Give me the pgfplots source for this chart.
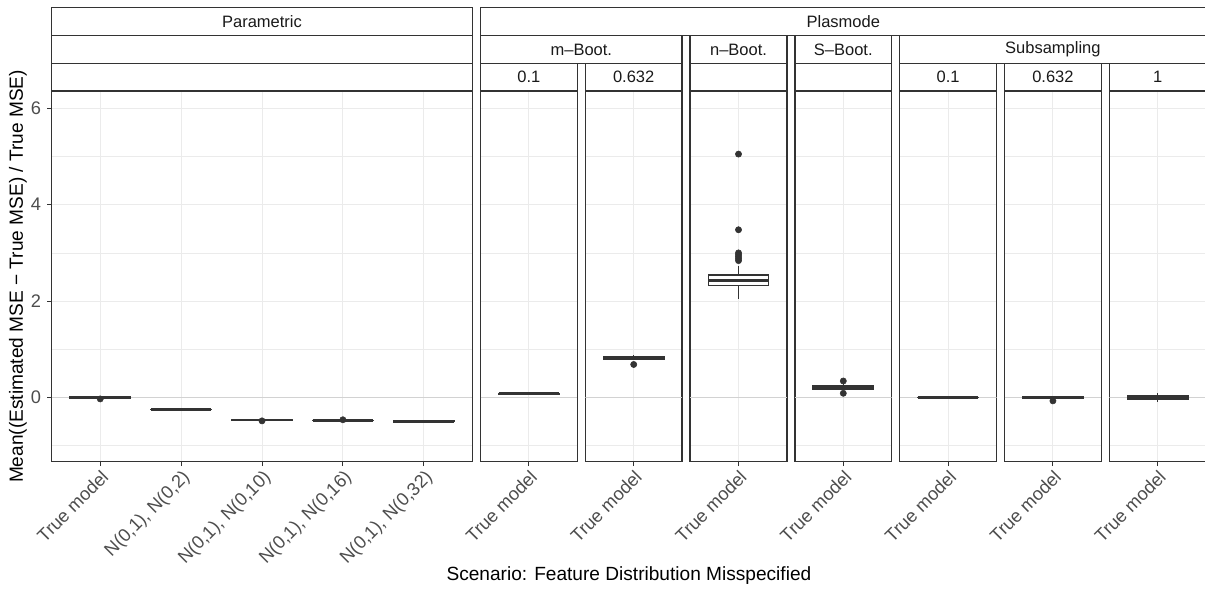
\documentclass[border=0pt]{standalone}
\usepackage{pgfplots}
\pgfplotsset{compat=1.18}
\usepgfplotslibrary{statistics}
\usepackage{fontspec}
\setmainfont{Liberation Sans}
\definecolor{grey10}{HTML}{1A1A1A}
\definecolor{grey20}{HTML}{333333}
\definecolor{grey30}{HTML}{4D4D4D}
\definecolor{grey92}{HTML}{EBEBEB}
\definecolor{zeroline}{HTML}{D2D2D2}
\newcommand{\tickfont}{\fontsize{10.5}{12}\selectfont}
\newcommand{\stripfont}{\fontsize{9.5}{11}\selectfont}
\newcommand{\titlefont}{\fontsize{11}{13}\selectfont}
\pgfplotsset{
  panel/.style={
    scale only axis, anchor=south west,
    height=213.41pt,
    ymin=-1.332, ymax=6.355,
    ytick={0,2,4,6}, minor ytick={-1,1,3,5},
    ymajorgrids, yminorgrids, xmajorgrids,
    major grid style={draw=grey92, line width=0.55pt},
    minor grid style={draw=grey92, line width=0.3pt},
    axis line style={draw=grey20, line width=0.85pt},
    tick align=outside, tick pos=left,
    major tick length=2.6pt, minor tick length=0pt,
    tick style={draw=grey20, line width=0.55pt},
    xticklabel style={rotate=45, anchor=north east, font=\tickfont, text=grey30, inner sep=1pt},
    yticklabel style={font=\tickfont, text=grey30},
    /pgf/number format/assume math mode=true,
  },
  plpanel/.style={panel, width=55.76pt, xmin=0.4, xmax=1.6, xtick={1}, xticklabels={True model},
    yticklabels={}, ytick style={draw=none}},
  bp/.style={boxplot prepared={#1}, boxplot/draw direction=y, draw=grey20, fill=white, line width=0.8pt,
    boxplot/box extend=0.75, boxplot/whisker extend=0,
    boxplot/every median/.style={line width=1.6pt},
    mark=*, mark size=1.8pt, mark options={solid, fill=grey20, draw=grey20, line width=0.3pt}},
  zl/.style={draw=zeroline, line width=0.55pt, forget plot},
}
\begin{document}
\begin{tikzpicture}[x=0.576pt, y=0.576pt]
\useasboundingbox (0,0) rectangle (1205,598);
\clip (0,0) rectangle (1205,598);

% Parametric
\begin{axis}[panel, at={(29.78pt,78.51pt)}, width=242.27pt, xmin=0.4, xmax=5.6,
  xtick={1,2,3,4,5},
  xticklabels={True model, {N(0,1), N(0,2)}, {N(0,1), N(0,10)}, {N(0,1), N(0,16)}, {N(0,1), N(0,32)}}]
\addplot[zl] coordinates {(0.4,0) (5.6,0)};
\addplot[bp={draw position=1, lower whisker=-0.02, lower quartile=-0.01, median=0, upper quartile=0.01, upper whisker=0.02}]
  table[row sep=\\, y index=0] {data\\ -0.03\\};
\addplot[bp={draw position=2, lower whisker=-0.257, lower quartile=-0.255, median=-0.25, upper quartile=-0.245, upper whisker=-0.243}]
  coordinates {};
\addplot[bp={draw position=3, lower whisker=-0.473, lower quartile=-0.47, median=-0.465, upper quartile=-0.46, upper whisker=-0.457}]
  table[row sep=\\, y index=0] {data\\ -0.485\\};
\addplot[bp={draw position=4, lower whisker=-0.486, lower quartile=-0.483, median=-0.478, upper quartile=-0.473, upper whisker=-0.47}]
  table[row sep=\\, y index=0] {data\\ -0.462\\};
\addplot[bp={draw position=5, lower whisker=-0.499, lower quartile=-0.497, median=-0.492, upper quartile=-0.487, upper whisker=-0.485}]
  coordinates {};
\end{axis}

% m-Boot 0.1
\begin{axis}[plpanel, at={(276.77pt,78.51pt)}]
\addplot[zl] coordinates {(0.4,0) (1.6,0)};
\addplot[bp={draw position=1, lower whisker=0.066, lower quartile=0.07, median=0.075, upper quartile=0.08, upper whisker=0.084}]
  coordinates {};
\end{axis}

% m-Boot 0.632
\begin{axis}[plpanel, at={(337.13pt,78.51pt)}]
\addplot[zl] coordinates {(0.4,0) (1.6,0)};
\addplot[bp={draw position=1, lower whisker=0.78, lower quartile=0.79, median=0.825, upper quartile=0.855, upper whisker=0.89}]
  table[row sep=\\, y index=0] {data\\ 0.685\\};
\end{axis}

% n-Boot
\begin{axis}[plpanel, at={(397.50pt,78.51pt)}]
\addplot[zl] coordinates {(0.4,0) (1.6,0)};
\addplot[bp={draw position=1, lower whisker=2.04, lower quartile=2.325, median=2.435, upper quartile=2.545, upper whisker=2.72}]
  table[row sep=\\, y index=0] {data\\ 5.05\\ 3.48\\ 3.0\\ 2.96\\ 2.92\\ 2.88\\ 2.84\\};
\end{axis}

% S-Boot
\begin{axis}[plpanel, at={(457.86pt,78.51pt)}]
\addplot[zl] coordinates {(0.4,0) (1.6,0)};
\addplot[bp={draw position=1, lower whisker=0.15, lower quartile=0.18, median=0.21, upper quartile=0.24, upper whisker=0.27}]
  table[row sep=\\, y index=0] {data\\ 0.342\\ 0.087\\};
\end{axis}

% Subsampling 0.1
\begin{axis}[plpanel, at={(518.23pt,78.51pt)}]
\addplot[zl] coordinates {(0.4,0) (1.6,0)};
\addplot[bp={draw position=1, lower whisker=-0.007, lower quartile=-0.005, median=0, upper quartile=0.005, upper whisker=0.007}]
  coordinates {};
\end{axis}

% Subsampling 0.632
\begin{axis}[plpanel, at={(578.59pt,78.51pt)}]
\addplot[zl] coordinates {(0.4,0) (1.6,0)};
\addplot[bp={draw position=1, lower whisker=-0.03, lower quartile=-0.01, median=0, upper quartile=0.01, upper whisker=0.025}]
  table[row sep=\\, y index=0] {data\\ -0.07\\};
\end{axis}

% Subsampling 1
\begin{axis}[plpanel, at={(638.96pt,78.51pt)}]
\addplot[zl] coordinates {(0.4,0) (1.6,0)};
\addplot[bp={draw position=1, lower whisker=-0.085, lower quartile=-0.035, median=0, upper quartile=0.035, upper whisker=0.09}]
  coordinates {};
\end{axis}

% strips
\begin{scope}[every node/.style={font=\stripfont, text=grey10}]
\tikzset{strip/.style={draw=grey20, line width=0.85pt, fill=white}}
% Parametric
\draw[strip] (51.7,562.4) rectangle (472.3,590.3);
\draw[strip] (51.7,534.6) rectangle (472.3,562.4);
\draw[strip] (51.7,506.8) rectangle (472.3,534.6);
\node at (262,576.35) {Parametric};
% Plasmode level 1
\draw[strip] (480.5,562.4) rectangle (1206.1,590.3);
\node at (843.3,576.35) {Plasmode};
% level 2
\draw[strip] (480.5,534.6) rectangle (682.1,562.4);
\node at (581.3,548.5) {m\textendash Boot.};
\draw[strip] (690.1,534.6) rectangle (786.9,562.4);
\node at (738.5,548.5) {n\textendash Boot.};
\draw[strip] (794.9,534.6) rectangle (891.7,562.4);
\node at (843.3,548.5) {S\textendash Boot.};
\draw[strip] (899.7,534.6) rectangle (1206.1,562.4);
\node at (1052.9,548.5) {Subsampling};
% level 3
\draw[strip] (480.5,506.8) rectangle (577.3,534.6);
\node at (528.9,520.7) {0.1};
\draw[strip] (585.3,506.8) rectangle (682.1,534.6);
\node at (633.7,520.7) {0.632};
\draw[strip] (690.1,506.8) rectangle (786.9,534.6);
\draw[strip] (794.9,506.8) rectangle (891.7,534.6);
\draw[strip] (899.7,506.8) rectangle (996.5,534.6);
\node at (948.1,520.7) {0.1};
\draw[strip] (1004.5,506.8) rectangle (1101.3,534.6);
\node at (1052.9,520.7) {0.632};
\draw[strip] (1109.3,506.8) rectangle (1206.1,534.6);
\node at (1157.7,520.7) {1};
\end{scope}

% axis titles
\node[rotate=90, font=\titlefont] at (18,321.5) {Mean((Estimated MSE − True MSE) / True MSE)};
\node[font=\titlefont] at (628.9,22) {Scenario: Feature Distribution Misspecified};
\end{tikzpicture}
\end{document}
